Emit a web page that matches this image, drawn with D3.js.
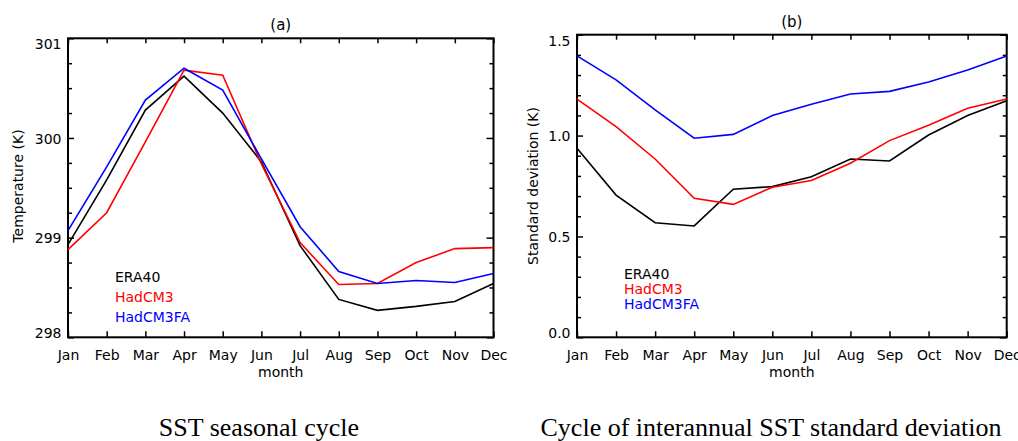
<!DOCTYPE html>
<html>
<head>
<meta charset="utf-8">
<script src="https://cdn.jsdelivr.net/npm/d3@7"></script>
<style>
  html, body { margin: 0; padding: 0; background: #fff; }
  svg { display: block; }
  .lbl { font-family: "DejaVu Sans", sans-serif; font-size: 14px; fill: #000; }
  .cap { font-family: "Liberation Serif", "Times New Roman", serif; font-size: 26px; fill: #000; }
</style>
</head>
<body>
<svg id="chart" width="1018" height="441"></svg>
<script>
// Month labels along the x axis
const months = ["Jan", "Feb", "Mar", "Apr", "May", "Jun", "Jul", "Aug", "Sep", "Oct", "Nov", "Dec"];

// (a) SST seasonal cycle, K
const sstEra40    = [298.93, 299.58, 300.28, 300.62, 300.25, 299.76, 298.92, 298.38, 298.27, 298.31, 298.36, 298.54];
const sstHadCM3   = [298.88, 299.25, 299.96, 300.68, 300.63, 299.74, 298.95, 298.53, 298.54, 298.75, 298.89, 298.90];
const sstHadCM3FA = [299.07, 299.71, 300.38, 300.70, 300.48, 299.79, 299.11, 298.66, 298.54, 298.57, 298.55, 298.64];

// (b) interannual SST standard deviation, K
const sdEra40    = [0.937, 0.705, 0.568, 0.552, 0.734, 0.747, 0.796, 0.884, 0.874, 1.003, 1.099, 1.172];
const sdHadCM3   = [1.181, 1.044, 0.884, 0.689, 0.659, 0.744, 0.777, 0.863, 0.975, 1.051, 1.135, 1.181];
const sdHadCM3FA = [1.395, 1.276, 1.127, 0.987, 1.006, 1.099, 1.155, 1.206, 1.219, 1.266, 1.325, 1.395];

// Tick values
const tempTicks = [298, 299, 300, 301];
const tempTickLabels = ["298", "299", "300", "301"];
const sdTicks = [0.0, 0.5, 1.0, 1.5];
const sdTickLabels = ["0.0", "0.5", "1.0", "1.5"];

const seriesNames = ["ERA40", "HadCM3", "HadCM3FA"];
const seriesColors = ["#000000", "#ff0000", "#0000ff"];

const svg = d3.select("#chart");

function panel(cfg) {
  const g = svg.append("g");
  const x = d3.scalePoint().domain(months).range([cfg.left, cfg.right]).padding(0);
  const y = d3.scaleLinear().domain(cfg.domain).range([cfg.bottom, cfg.top]);

  // minor ticks on left / right
  const minor = d3.range(cfg.domain[0], cfg.domain[1] + 1e-9, cfg.minorStep)
    .filter(v => !cfg.ticks.some(t => Math.abs(t - v) < 1e-9));

  const tickStyle = sel => {
    sel.select(".domain").remove();
    sel.selectAll(".tick line").attr("stroke", "#000").attr("stroke-width", 1.5);
  };

  // left axis, major
  const left = g.append("g").attr("transform", `translate(${cfg.left},0)`)
    .call(d3.axisLeft(y).tickValues(cfg.ticks).tickSize(-6).tickPadding(6.5)
      .tickFormat((d, i) => cfg.tickLabels[i]));
  tickStyle(left);
  left.selectAll(".tick text").attr("class", "lbl").attr("font-family", null).attr("font-size", null)
    .attr("dy", (d, i) => i === 0 ? "-0.0em" : (i === cfg.ticks.length - 1 ? "0.75em" : "0.36em"));
  // left axis, minor
  g.append("g").attr("transform", `translate(${cfg.left},0)`)
    .call(d3.axisLeft(y).tickValues(minor).tickSize(-4).tickFormat(""))
    .call(tickStyle);
  // right axis
  g.append("g").attr("transform", `translate(${cfg.right},0)`)
    .call(d3.axisRight(y).tickValues(cfg.ticks).tickSize(-7).tickFormat(""))
    .call(tickStyle);
  g.append("g").attr("transform", `translate(${cfg.right},0)`)
    .call(d3.axisRight(y).tickValues(minor).tickSize(-4).tickFormat(""))
    .call(tickStyle);

  // bottom axis with month labels
  const bottom = g.append("g").attr("transform", `translate(0,${cfg.bottom})`)
    .call(d3.axisBottom(x).tickSize(-6).tickPadding(12.5));
  tickStyle(bottom);
  bottom.selectAll(".tick text").attr("class", "lbl").attr("font-family", null).attr("font-size", null);
  // top axis, ticks only
  g.append("g").attr("transform", `translate(0,${cfg.top})`)
    .call(d3.axisTop(x).tickSize(-5).tickFormat(""))
    .call(tickStyle);

  // frame
  g.append("rect")
    .attr("x", cfg.left).attr("y", cfg.top)
    .attr("width", cfg.right - cfg.left).attr("height", cfg.bottom - cfg.top)
    .attr("fill", "none").attr("stroke", "#000").attr("stroke-width", 2);

  // series lines
  const line = d3.line().x((d, i) => x(months[i])).y(d => y(d));
  cfg.series.forEach((s, k) => {
    g.append("path").datum(s)
      .attr("d", line)
      .attr("fill", "none")
      .attr("stroke", seriesColors[k])
      .attr("stroke-width", 1.6)
      .attr("stroke-linejoin", "miter");
  });

  // legend
  seriesNames.forEach((n, k) => {
    g.append("text").attr("class", "lbl")
      .attr("x", cfg.legendX).attr("y", cfg.legendY + k * cfg.legendStep)
      .style("fill", seriesColors[k])
      .text(n);
  });

  // panel title
  g.append("text").attr("class", "lbl")
    .attr("x", (cfg.left + cfg.right) / 2).attr("y", cfg.top - 8)
    .attr("text-anchor", "middle").style("font-size", "15px")
    .text(cfg.title);

  // x axis title
  g.append("text").attr("class", "lbl")
    .attr("x", (cfg.left + cfg.right) / 2).attr("y", cfg.bottom + 40)
    .attr("text-anchor", "middle")
    .text("month");

  // y axis title
  g.append("text").attr("class", "lbl")
    .attr("transform", `translate(${cfg.yTitleX},${cfg.yTitleY}) rotate(-90)`)
    .attr("text-anchor", "middle")
    .text(cfg.yTitle);

  // caption below the panel
  svg.append("text").attr("class", "cap")
    .attr("x", cfg.capX).attr("y", 436)
    .attr("text-anchor", "middle")
    .text(cfg.caption);
}

panel({
  left: 68, right: 493.5, top: 38.3, bottom: 337.3,
  domain: [298, 301], ticks: tempTicks, tickLabels: tempTickLabels, minorStep: 0.25,
  series: [sstEra40, sstHadCM3, sstHadCM3FA],
  legendX: 115, legendY: 281.5, legendStep: 20,
  title: "(a)", yTitle: "Temperature (K)", yTitleX: 23, yTitleY: 186,
  caption: "SST seasonal cycle", capX: 259
});

panel({
  left: 577, right: 1006.7, top: 34.7, bottom: 337.3,
  domain: [0, 1.5], ticks: sdTicks, tickLabels: sdTickLabels, minorStep: 0.1,
  series: [sdEra40, sdHadCM3, sdHadCM3FA],
  legendX: 624, legendY: 278.5, legendStep: 15,
  title: "(b)", yTitle: "Standard deviation (K)", yTitleX: 538, yTitleY: 186,
  caption: "Cycle of interannual SST standard deviation", capX: 771
});
</script>
</body>
</html>
